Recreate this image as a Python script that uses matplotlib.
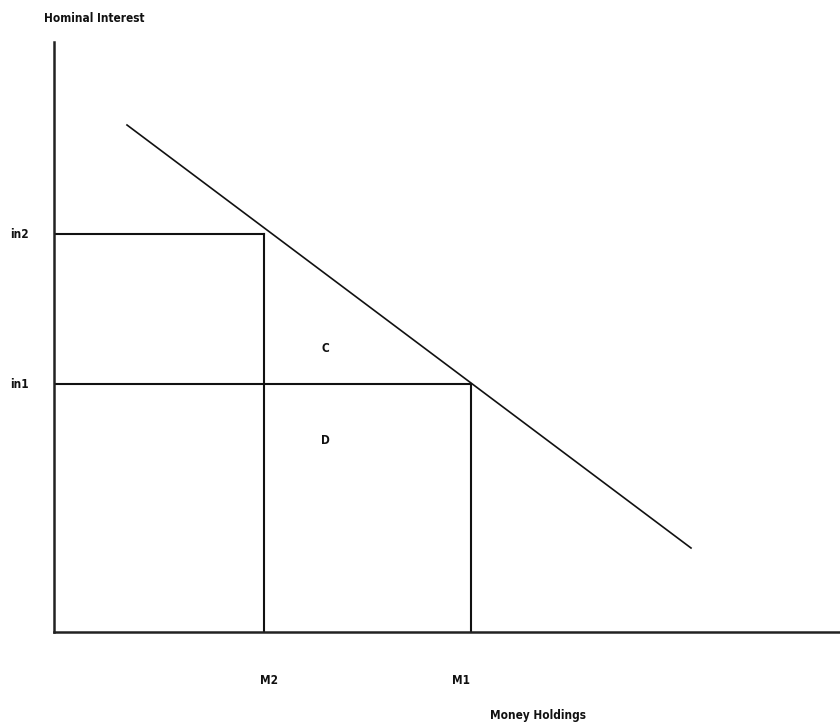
import matplotlib
matplotlib.use("Agg")
import matplotlib.pyplot as plt

# Data (in chart units, origin at axes corner)
demand_x = [73, 637]
demand_y = [507, 84]
m_labels = ["M2", "M1"]
m_values = [210, 417]
i_labels = ["in2", "in1"]
i_values = [398, 248]
area_labels = ["C", "D"]
area_x = [271, 271]
area_y = [284, 192]

W, H = 840, 726
fig = plt.figure(figsize=(W / 100, H / 100), dpi=100)
ox, oy = 54, 632
ax = fig.add_axes([ox / W, (H - oy) / H, (W - ox) / W, (oy - 42) / H])
ax.set_xlim(0, W - ox)
ax.set_ylim(0, oy - 42)
for s in ["top", "right"]:
    ax.spines[s].set_visible(False)
for s in ["left", "bottom"]:
    ax.spines[s].set_linewidth(1.8)
    ax.spines[s].set_color("#222222")
ax.set_xticks([])
ax.set_yticks([])

lc = "#111111"
ax.plot(demand_x, demand_y, color=lc, lw=1.2)
for mv, iv in zip(m_values, i_values):
    ax.plot([0, mv], [iv, iv], color=lc, lw=1.5)
    ax.plot([mv, mv], [0, iv], color=lc, lw=1.5)

fp = dict(family="DejaVu Sans", fontstretch="condensed", fontweight="bold", fontsize=8.5, color="#111111")
for lab, iv in zip(i_labels, i_values):
    ax.text(-44, iv, lab, ha="left", va="center", clip_on=False, **fp)
m_label_offsets = [5, -10]
for lab, mv, off in zip(m_labels, m_values, m_label_offsets):
    ax.text(mv + off, -48, lab, ha="center", va="center", clip_on=False, **fp)
for lab, x, y in zip(area_labels, area_x, area_y):
    ax.text(x, y, lab, ha="center", va="center", **fp)
ax.text(-10, 614, "Hominal Interest", ha="left", va="center", clip_on=False, **fp)
ax.text(436, -83, "Money Holdings", ha="left", va="center", clip_on=False, **fp)

fig.savefig("out.png", dpi=100)
